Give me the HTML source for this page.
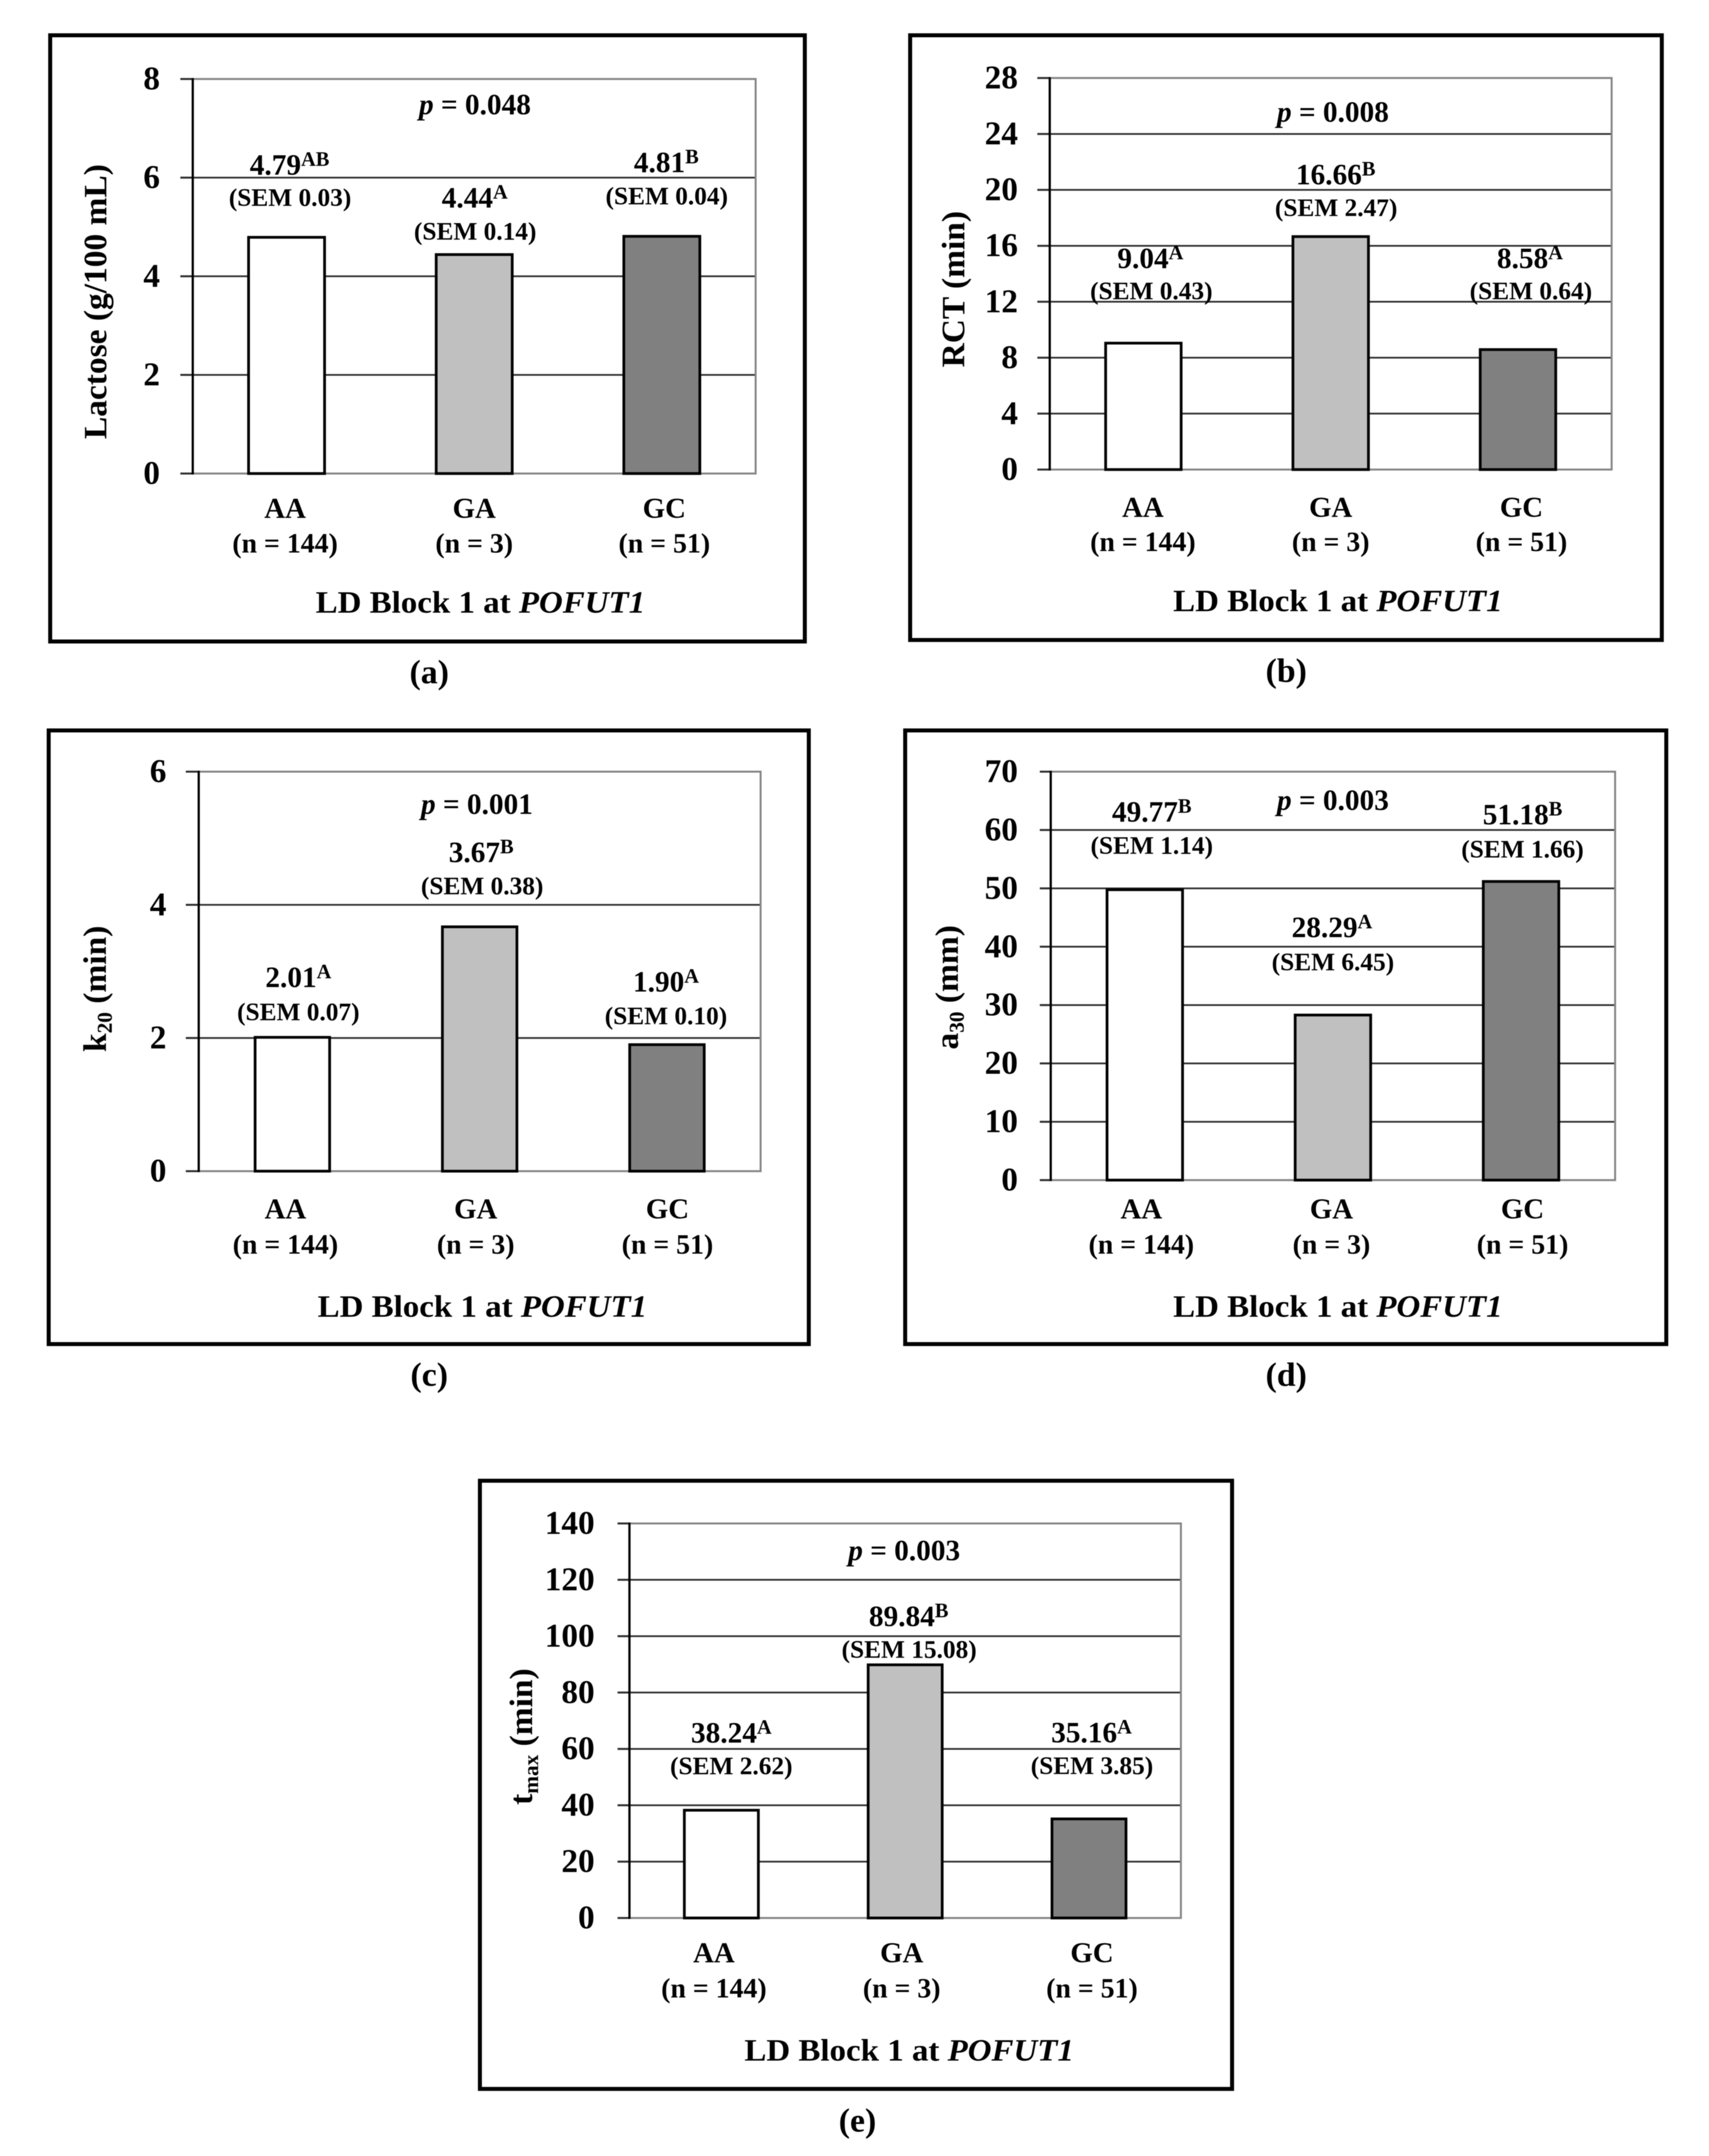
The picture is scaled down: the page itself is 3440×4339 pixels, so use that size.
<!DOCTYPE html>
<html lang="en">
<head>
<meta charset="utf-8">
<title>LD Block 1 at POFUT1 milk traits</title>
<style>
html,body{margin:0;padding:0;background:#fff;}
svg{display:block;filter:blur(0.9px);}
text{font-family:"Liberation Serif",serif;font-weight:bold;fill:#000;}
</style>
</head>
<body>
<svg id="figure" xmlns="http://www.w3.org/2000/svg" width="3440" height="4339" viewBox="0 0 3440 4339"></svg>
<script>
const categories = ['AA', 'GA', 'GC'];
const sampleSizes = [144, 3, 51];
const barFills = ['#ffffff', '#c0c0c0', '#808080'];

const lactoseValues = [4.79, 4.44, 4.81];
const lactoseSem = [0.03, 0.14, 0.04];
const lactoseLetters = ['AB', 'A', 'B'];
const lactoseTicks = [0, 2, 4, 6, 8];

const rctValues = [9.04, 16.66, 8.58];
const rctSem = [0.43, 2.47, 0.64];
const rctLetters = ['A', 'B', 'A'];
const rctTicks = [0, 4, 8, 12, 16, 20, 24, 28];

const k20Values = [2.01, 3.67, 1.90];
const k20Sem = [0.07, 0.38, 0.10];
const k20Letters = ['A', 'B', 'A'];
const k20Ticks = [0, 2, 4, 6];

const a30Values = [49.77, 28.29, 51.18];
const a30Sem = [1.14, 6.45, 1.66];
const a30Letters = ['B', 'A', 'B'];
const a30Ticks = [0, 10, 20, 30, 40, 50, 60, 70];

const tmaxValues = [38.24, 89.84, 35.16];
const tmaxSem = [2.62, 15.08, 3.85];
const tmaxLetters = ['A', 'B', 'A'];
const tmaxTicks = [0, 20, 40, 60, 80, 100, 120, 140];

const svg = document.getElementById('figure');
const NS = 'http://www.w3.org/2000/svg';

function make(tag, attrs, parent) {
  const el = document.createElementNS(NS, tag);
  for (const k in attrs) el.setAttribute(k, attrs[k]);
  parent.appendChild(el);
  return el;
}

function addTspan(parent, str, attrs) {
  const t = make('tspan', attrs || {}, parent);
  t.textContent = str;
  return t;
}

function drawPanel(p) {
  const g = make('g', {}, svg);
  
  

  const frame = make('rect', {x: p.frame[0], y: p.frame[1], width: p.frame[2] - p.frame[0], height: p.frame[3] - p.frame[1], fill: '#fff', stroke: '#000', 'stroke-width': 8}, g);
  
  

  const maxTick = p.ticks[p.ticks.length - 1];
  const yScale = v => p.bottom - (v / maxTick) * (p.bottom - p.top);
  const band = (p.right - p.left) / p.categories.length;
  const xScale = i => p.left + (i + 0.5) * band;

  p.ticks.forEach(t => {
    const y = yScale(t);
    if (t !== 0 && t !== maxTick) {
      const grid = make('line', {x1: p.left, x2: p.right, y1: y, y2: y, stroke: '#303030', 'stroke-width': 3.5}, g);
      
      
    }
  });

  const border = make('path', {d: 'M' + p.left + ' ' + p.top + 'H' + p.right + 'V' + p.bottom + 'H' + p.left, fill: 'none', stroke: '#868686', 'stroke-width': 4}, g);
  
  

  p.ticks.forEach(t => {
    const y = yScale(t);
    const mark = make('line', {x1: p.tickStart, x2: p.left, y1: y, y2: y, stroke: '#303030', 'stroke-width': 4}, g);
    
    
    const lab = make('text', {x: p.tickRight, y: y + 21, 'text-anchor': 'end', 'font-size': 67}, g);
    lab.textContent = String(t);
    
    
  });

  const axis = make('line', {x1: p.left, x2: p.left, y1: p.top - 2, y2: p.bottom + 2, stroke: '#000', 'stroke-width': 4.5}, g);
  
  

  p.values.forEach((v, i) => {
    const cx = xScale(i);
    const top = yScale(v);
    const bar = make('rect', {x: cx - p.barWidth / 2, y: top, width: p.barWidth, height: p.bottom - top, fill: barFills[i], stroke: '#000', 'stroke-width': 5.5}, g);
    
    

    const valueBase = top - p.labelGap[i];
    const val = make('text', {x: cx + p.valueDx[i], y: valueBase, 'text-anchor': 'middle', 'font-size': 59}, g);
    addTspan(val, v.toFixed(2));
    addTspan(val, p.letters[i], {'font-size': 41, dy: -18});
    
    

    const sem = make('text', {x: cx + p.semDx[i], y: valueBase + p.semDrop[i], 'text-anchor': 'middle', 'font-size': 51}, g);
    sem.textContent = '(SEM ' + p.sem[i].toFixed(2) + ')';
    
    

    const cat = make('text', {x: cx + p.catDx[i], y: p.catY, 'text-anchor': 'middle', 'font-size': 58}, g);
    cat.textContent = p.categories[i];
    
    

    const n = make('text', {x: cx + p.catDx[i], y: p.nY, 'text-anchor': 'middle', 'font-size': 56}, g);
    n.textContent = '(n = ' + p.sizes[i] + ')';
    
    
  });

  const pText = make('text', {x: p.pX, y: p.pY, 'text-anchor': 'middle', 'font-size': 59}, g);
  addTspan(pText, 'p', {'font-style': 'italic'});
  addTspan(pText, ' = ' + p.pValue);
  
  

  const xTitle = make('text', {transform: 'translate(' + p.xTitleX + ' ' + p.xTitleY + ') scale(1.07 1)', 'text-anchor': 'middle', 'font-size': 62}, g);
  addTspan(xTitle, 'LD Block 1 at ');
  addTspan(xTitle, 'POFUT1', {'font-style': 'italic'});
  
  

  const yTitle = make('text', {transform: 'translate(' + p.yTitleX + ' ' + p.yTitleY + ') rotate(-90) scale(1.02 1)', 'text-anchor': 'middle', 'font-size': 66}, g);
  addTspan(yTitle, p.yMain);
  if (p.ySub) {
    addTspan(yTitle, p.ySub, {'font-size': 42, dy: 12});
    addTspan(yTitle, p.yRest, {dy: -12});
  }
  
  

  const cap = make('text', {x: p.capX, y: p.capY, 'text-anchor': 'middle', 'font-size': 68}, g);
  cap.textContent = '(' + p.id + ')';
  
  
}

drawPanel({id: 'a', categories: categories, sizes: sampleSizes, values: lactoseValues, sem: lactoseSem, letters: lactoseLetters, ticks: lactoseTicks,
  frame: [101, 71, 1620, 1291], left: 388, right: 1521, top: 159, bottom: 953, barWidth: 153, tickStart: 363, tickRight: 322,
  labelGap: [126, 95, 129], semDrop: [63, 65, 65], valueDx: [6, 1, 9], semDx: [7, 2, 10], catDx: [-3, 0, 5], catY: 1042, nY: 1112,
  pValue: '0.048', pX: 956, pY: 230, xTitleX: 967, xTitleY: 1233, yMain: 'Lactose (g/100 mL)', yTitleX: 214, yTitleY: 607, capX: 864, capY: 1375});

drawPanel({id: 'b', categories: categories, sizes: sampleSizes, values: rctValues, sem: rctSem, letters: rctLetters, ticks: rctTicks,
  frame: [1832, 71, 3345, 1288], left: 2113, right: 3244, top: 157, bottom: 945, barWidth: 152, tickStart: 2088, tickRight: 2049,
  labelGap: [151, 105, 164], semDrop: [63, 64, 63], valueDx: [14, 10, 24], semDx: [16, 11, 26], catDx: [-1, 0, 7], catY: 1040, nY: 1109,
  pValue: '0.008', pX: 2683, pY: 245, xTitleX: 2693, xTitleY: 1230, yMain: 'RCT (min)', yTitleX: 1941, yTitleY: 582, capX: 2589, capY: 1372});

drawPanel({id: 'c', categories: categories, sizes: sampleSizes, values: k20Values, sem: k20Sem, letters: k20Letters, ticks: k20Ticks,
  frame: [98, 1470, 1628, 2705], left: 400, right: 1531, top: 1553, bottom: 2357, barWidth: 150, tickStart: 374, tickRight: 335,
  labelGap: [101, 130, 107], semDrop: [67, 65, 66], valueDx: [12, 3, -2], semDx: [12, 5, -2], catDx: [-14, -8, 1], catY: 2452, nY: 2523,
  pValue: '0.001', pX: 960, pY: 1638, xTitleX: 971, xTitleY: 2650, yMain: 'k', ySub: '20', yRest: ' (min)', yTitleX: 213, yTitleY: 1990, capX: 864, capY: 2789});

drawPanel({id: 'd', categories: categories, sizes: sampleSizes, values: a30Values, sem: a30Sem, letters: a30Letters, ticks: a30Ticks,
  frame: [1822, 1470, 3354, 2705], left: 2115, right: 3251, top: 1553, bottom: 2375, barWidth: 152, tickStart: 2093, tickRight: 2049,
  labelGap: [137, 157, 115], semDrop: [65, 67, 67], valueDx: [14, -2, 3], semDx: [14, 0, 3], catDx: [-7, -3, 3], catY: 2452, nY: 2523,
  pValue: '0.003', pX: 2683, pY: 1630, xTitleX: 2693, xTitleY: 2650, yMain: 'a', ySub: '30', yRest: ' (mm)', yTitleX: 1928, yTitleY: 1987, capX: 2589, capY: 2789});

drawPanel({id: 'e', categories: categories, sizes: sampleSizes, values: tmaxValues, sem: tmaxSem, letters: tmaxLetters, ticks: tmaxTicks,
  frame: [966, 2980, 2480, 4204], left: 1267, right: 2377, top: 3066, bottom: 3860, barWidth: 149, tickStart: 1243, tickRight: 1197,
  labelGap: [136, 78, 154], semDrop: [64, 64, 64], valueDx: [20, 7, 5], semDx: [20, 8, 6], catDx: [-15, -7, 6], catY: 3949, nY: 4020,
  pValue: '0.003', pX: 1820, pY: 3140, xTitleX: 1830, xTitleY: 4147, yMain: 't', ySub: 'max', yRest: ' (min)', yTitleX: 1071, yTitleY: 3495, capX: 1726, capY: 4290});
</script>
</body>
</html>
